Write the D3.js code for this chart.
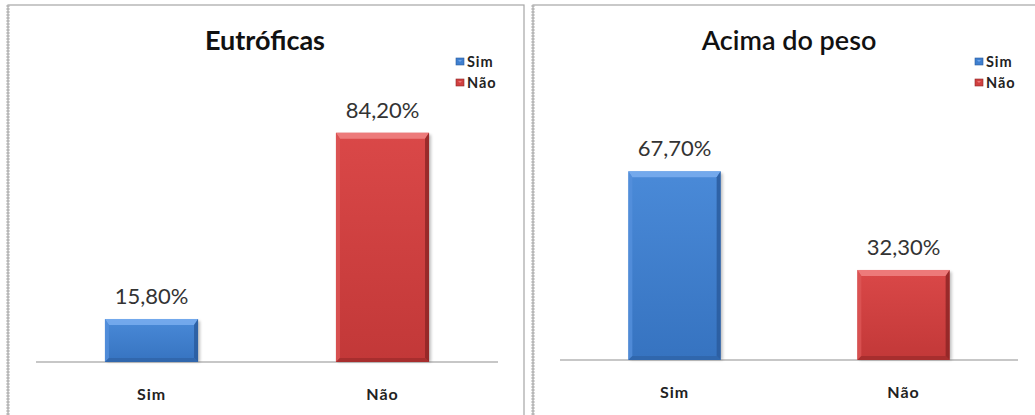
<!DOCTYPE html>
<html><head><meta charset="utf-8">
<script src="https://cdn.jsdelivr.net/npm/d3@7"></script>
<style>
html,body{margin:0;padding:0;background:#fff;}
svg{display:block;font-family:Lato,"Open Sans",sans-serif;}
</style></head>
<body>
<svg id="c" width="1035" height="415"></svg>
<script>
const categories = ["Sim", "Não"];
const titles = ["Eutróficas", "Acima do peso"];
const eutroficasValues = [15.8, 84.2];
const acimaPesoValues = [67.7, 32.3];
const legendLabels = ["Sim", "Não"];

const svg = d3.select("#c");
const defs = svg.append("defs");

const palette = {
  blue: {main:"#3f7fcf", light:"#7aaef0", side:"#5590dc", dark:"#2a5c9e", bottom:"#2f64a8", top:"#4a8ad8", bot:"#3673c0"},
  red:  {main:"#d04040", light:"#f08484", side:"#dc5656", dark:"#8e2626", bottom:"#a02c2c", top:"#da4848", bot:"#c23838"}
};
const colorKeys = ["blue","red"];
colorKeys.forEach(k=>{
  const g = defs.append("linearGradient").attr("id","g"+k).attr("x1",0).attr("y1",0).attr("x2",0).attr("y2",1);
  g.append("stop").attr("offset","0%").attr("stop-color",palette[k].top);
  g.append("stop").attr("offset","100%").attr("stop-color",palette[k].bot);
});
const blur = defs.append("filter").attr("id","sh").attr("x","-20%").attr("y","-20%").attr("width","140%").attr("height","140%");
blur.append("feGaussianBlur").attr("stdDeviation",1.5);

const panels = [
  {x0:8, x1:524, axisL:36, axisR:498, base:362, top:117, max:90, values:eutroficasValues, title:titles[0], titleX:265, titleWeight:700, legendX:456},
  {x0:533, x1:1050, axisL:560, axisR:1018, base:360, top:137, max:80, values:acimaPesoValues, title:titles[1], titleX:789, titleWeight:600, legendX:975}
];

panels.forEach(p=>{
  const g = svg.append("g");
  g.append("rect").attr("x",p.x0).attr("y",5).attr("width",p.x1-p.x0).attr("height",420)
    .attr("fill","#fff").attr("stroke","#a6a6a6").attr("stroke-width",1.2);
  g.append("line").attr("x1",p.x0).attr("x2",p.x0).attr("y1",5).attr("y2",415)
    .attr("stroke","#b8b8b8").attr("stroke-width",3).attr("stroke-dasharray","2,1");

  const x = d3.scaleBand().domain(categories).range([p.axisL,p.axisR]).paddingInner(0.597).paddingOuter(0.2985);
  const y = d3.scaleLinear().domain([0,p.max]).range([p.base,p.top]);

  g.append("text").attr("x",p.titleX).attr("y",50).attr("text-anchor","middle")
    .attr("font-size",27).attr("font-weight",p.titleWeight).attr("fill","#111").text(p.title);

  legendLabels.forEach((l,i)=>{
    const ly = 58 + i*21;
    const c = palette[colorKeys[i]];
    g.append("rect").attr("x",p.legendX).attr("y",ly).attr("width",8).attr("height",7).attr("fill",c.main).attr("stroke",c.dark).attr("stroke-width",0.6);
    g.append("path").attr("d",`M${p.legendX+2},${ly+2}L${p.legendX+6},${ly+2}L${p.legendX+4},${ly+4}Z`).attr("fill",c.light).attr("opacity",0.8);
    g.append("text").attr("x",p.legendX+11).attr("y",ly+9).attr("font-size",14.5).attr("font-weight",700)
      .attr("letter-spacing",0.9).attr("fill","#222").text(l);
  });

  const axis = d3.axisBottom(x).tickSize(0).tickPadding(27);
  const ag = g.append("g").attr("transform",`translate(0,${p.base})`).call(axis);
  ag.select(".domain").attr("stroke","#b5b5b5").attr("stroke-width",1.5).attr("d",`M${p.axisL},0H${p.axisR}`);
  ag.selectAll("text").attr("font-family","Lato,sans-serif").attr("font-size",16).attr("font-weight",700)
    .attr("letter-spacing",1).attr("fill","#222");

  const bw = x.bandwidth();
  p.values.forEach((v,i)=>{
    const c = palette[colorKeys[i]];
    const bx = x(categories[i]), by = y(v), bh = y(0)-y(v);
    g.append("rect").attr("x",bx+2).attr("y",by+2).attr("width",bw).attr("height",bh-2)
      .attr("fill","#000").attr("opacity",0.25).attr("filter","url(#sh)");
    g.append("rect").attr("x",bx).attr("y",by).attr("width",bw).attr("height",bh).attr("fill",`url(#g${colorKeys[i]})`);
    const b = 6, s = 4;
    const X0=bx, X1=bx+bw, Y0=by, Y1=by+bh;
    g.append("path").attr("d",`M${X0},${Y0}L${X1},${Y0}L${X1-s},${Y0+b}L${X0+s},${Y0+b}Z`).attr("fill",c.light).attr("opacity",0.85);
    g.append("path").attr("d",`M${X0},${Y0}L${X0+s},${Y0+b}L${X0+s},${Y1-s}L${X0},${Y1}Z`).attr("fill",c.side).attr("opacity",0.8);
    g.append("path").attr("d",`M${X1},${Y0}L${X1},${Y1}L${X1-s},${Y1-s}L${X1-s},${Y0+b}Z`).attr("fill",c.dark).attr("opacity",0.85);
    g.append("path").attr("d",`M${X0},${Y1}L${X0+s},${Y1-s}L${X1-s},${Y1-s}L${X1},${Y1}Z`).attr("fill",c.bottom).attr("opacity",0.8);
    g.append("text").attr("x",bx+bw/2).attr("y",by-15).attr("text-anchor","middle")
      .attr("font-size",22).attr("fill","#333").text(d3.format(".2f")(v).replace(".",",")+"%");
  });
});
</script>
</body></html>
